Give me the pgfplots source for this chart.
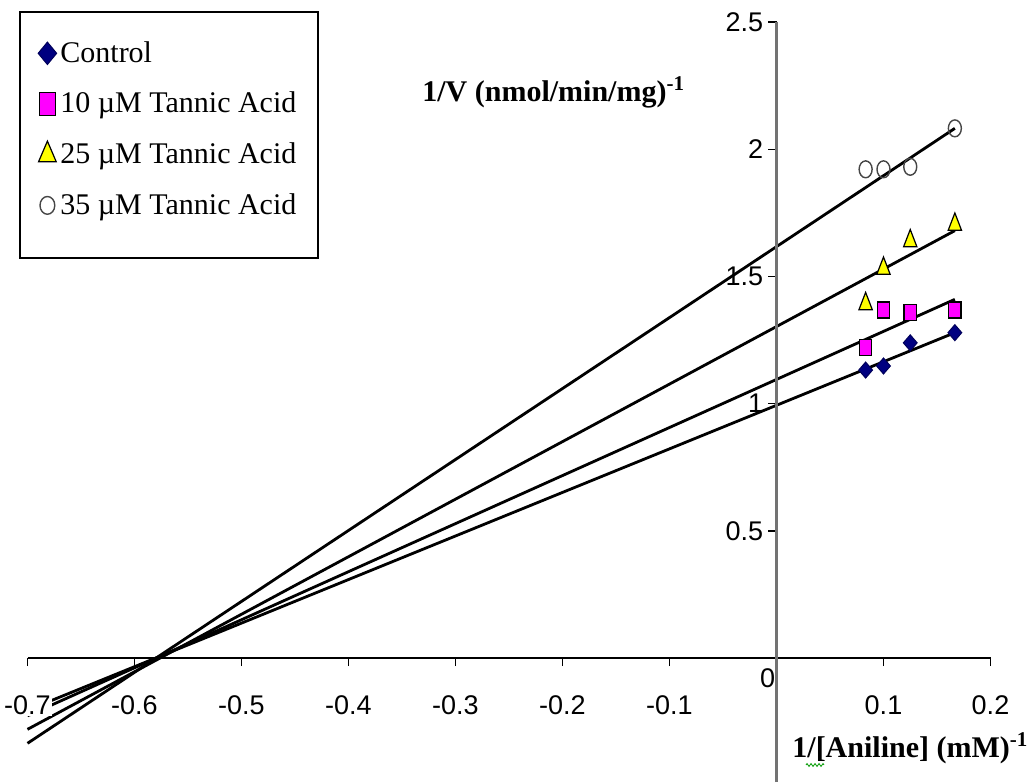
\documentclass[border=0pt]{standalone}
\usepackage{pgfplots}
\pgfplotsset{compat=1.18}
\usepackage{fontspec}
\setmainfont{Liberation Serif}
\newfontfamily\tickfont{Liberation Sans}
\usetikzlibrary{decorations.pathmorphing}
\definecolor{ctrlnavy}{RGB}{0,0,128}
\definecolor{tamag}{RGB}{255,0,255}
\definecolor{tayel}{RGB}{255,255,0}
\definecolor{circgray}{RGB}{70,70,70}

% legend image: one mark, centred on the text, with its own size and scaling
\pgfplotsset{
  markimg/.style 2 args={legend image code/.code={%
      \path[draw=none, fill=none] (-5pt,0pt) -- (5pt,0pt);
      \draw[##1, mark size=#1, mark options={#2}] plot coordinates {(0pt,4.4pt)};}},
}

\begin{document}
\begin{tikzpicture}
\useasboundingbox (-13.75pt,0pt) rectangle (501.75pt,391pt);
\begin{axis}[
  scale only axis,
  width=481.5pt, height=380pt,
  xmin=-0.7, xmax=0.2, ymin=-0.487, ymax=2.5,
  axis on top,
  axis x line=middle, axis y line=middle,
  every inner x axis line/.append style={-},
  every inner y axis line/.append style={-},
  x axis line style={black, line width=0.8pt},
  y axis line style={black!55, line width=1.1pt},
  tick align=outside,
  major tick length=4pt,
  tick style={black, line width=0.7pt},
  xtick={-0.7,-0.6,-0.5,-0.4,-0.3,-0.2,-0.1,0.1,0.2},
  xticklabels={-0.7,-0.6,-0.5,-0.4,-0.3,-0.2,-0.1,0.1,0.2},
  ytick={0.5,1,1.5,2,2.5},
  yticklabels={0.5,1,1.5,2,2.5},
  tick label style={font=\tickfont\fontsize{13.5}{15}\selectfont},
  xticklabel style={anchor=north, fill=white, inner sep=0.5pt, yshift=-14pt},
  yticklabel style={inner sep=2.5pt},
  clip=false,
  legend style={
    at={(0.00987,0.9767)}, anchor=north west,
    draw=none, fill=none, inner sep=0pt, row sep=11.25pt,
    font=\fontsize{15}{17}\selectfont,
    nodes={inner sep=0pt, text height=11pt, text depth=3pt, anchor=base west},
    /tikz/every odd column/.append style={column sep=1.5pt},
  },
  legend cell align=left,
]
% measured points
\addplot[only marks, mark=diamond*, mark size=4pt,
  mark options={fill=ctrlnavy, draw=ctrlnavy!70!black, line width=0.5pt, xscale=1.15},
  markimg={5.6pt}{fill=ctrlnavy, draw=ctrlnavy!70!black, line width=0.5pt, xscale=1.1}]
  coordinates {(0.0833,1.132) (0.1,1.148) (0.125,1.239) (0.1667,1.279)};
\addlegendentry{Control}
\addplot[only marks, mark=square*, mark size=3.1pt,
  mark options={fill=tamag, draw=black, line width=0.6pt, yscale=1.3},
  markimg={4.1pt}{fill=tamag, draw=black, line width=0.6pt, yscale=1.4}]
  coordinates {(0.0833,1.221) (0.1,1.368) (0.125,1.357) (0.1667,1.368)};
\addlegendentry{10 µM Tannic Acid}
\addplot[only marks, mark=triangle*, mark size=3.85pt,
  mark options={fill=tayel, draw=black, line width=0.6pt, yscale=1.5},
  markimg={5.1pt}{fill=tayel, draw=black, line width=0.6pt, yscale=1.35}]
  coordinates {(0.0833,1.392) (0.1,1.531) (0.125,1.639) (0.1667,1.704)};
\addlegendentry{25 µM Tannic Acid}
\addplot[only marks, mark=o, mark size=3.25pt,
  mark options={draw=circgray, line width=0.7pt, yscale=1.3},
  markimg={3.7pt}{draw=circgray, line width=0.7pt, yscale=1.2}]
  coordinates {(0.0833,1.921) (0.1,1.921) (0.125,1.931) (0.1667,2.082)};
\addlegendentry{35 µM Tannic Acid}

% trend lines, forecast back to -0.7
\addplot[black, line width=1.4pt, forget plot] coordinates {(-0.7,-0.205) (0.1667,1.279)};
\addplot[black, line width=1.4pt, forget plot] coordinates {(-0.7,-0.227) (0.1667,1.410)};
\addplot[black, line width=1.4pt, forget plot] coordinates {(-0.7,-0.280) (0.1667,1.680)};
\addplot[black, line width=1.4pt, forget plot] coordinates {(-0.7,-0.335) (0.1667,2.082)};

% axis titles and origin label
\node[anchor=base west, font=\fontsize{15}{18}\selectfont\bfseries, inner sep=0pt]
  at (axis cs:-0.3313,2.189) {1/V (nmol/min/mg)\textsuperscript{-1}};
\node[anchor=base west, font=\fontsize{15}{18}\selectfont\bfseries, inner sep=0pt]
  at (axis cs:0.0145,-0.389) {1/[Aniline] (mM)\textsuperscript{-1}};
\node[font=\tickfont\fontsize{13.5}{15}\selectfont, inner sep=0pt]
  at (axis cs:-0.0084,-0.0806) {0};
\end{axis}
% legend frame
\draw[black, line width=0.75pt] (-3.75pt,262pt) rectangle (145.25pt,385pt);
% spelling mark under the slash
\draw[green!60!black, line width=0.4pt, decorate,
  decoration={zigzag, amplitude=0.7pt, segment length=2pt}] (389.25pt,8.5pt) -- (398.25pt,8.5pt);
\end{tikzpicture}
\end{document}
